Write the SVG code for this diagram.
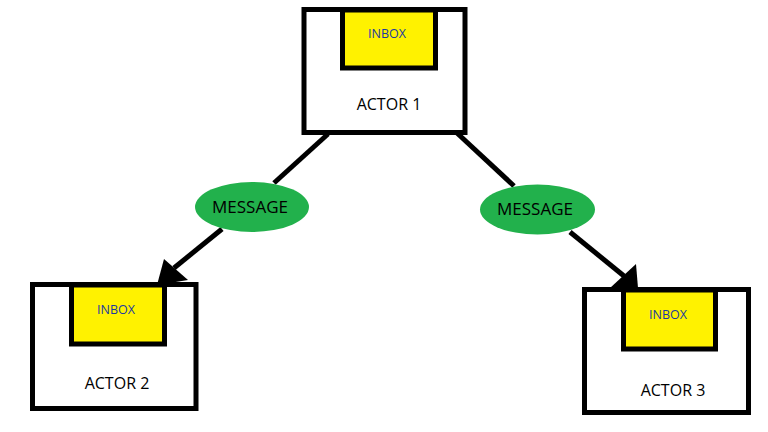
<svg xmlns="http://www.w3.org/2000/svg" width="768" height="432" viewBox="0 0 768 432">
<style>
.box{fill:#fff;stroke:#000;stroke-width:5}
.inbox{fill:#fff200;stroke:#000;stroke-width:5}
.ib{font-family:"Open Sans","Liberation Sans",sans-serif;font-size:12.5px;fill:#1a3aa0;text-anchor:middle}
.al{font-family:"Open Sans","Liberation Sans",sans-serif;font-size:16px;fill:#000;text-anchor:middle}
.msg{fill:#22b14c}
.ml{font-family:"Open Sans","Liberation Sans",sans-serif;font-size:17px;fill:#000;text-anchor:middle}
.ln{stroke:#000;stroke-width:5;fill:none}
</style>
<rect width="768" height="432" fill="#fff"/>
<g id="connectors">
<line class="ln" x1="328" y1="134" x2="274" y2="183"/>
<line class="ln" x1="222" y1="229" x2="174" y2="268"/>
<polygon points="157,285 164,259 188,280" fill="#000"/>
<line class="ln" x1="457" y1="133" x2="514" y2="186"/>
<line class="ln" x1="570" y1="232" x2="624" y2="276"/>
<polygon points="610,288 636,264 638,288" fill="#000"/>
</g>
<g id="actor1">
<rect class="box" x="304" y="9.5" width="161" height="123"/>
<rect class="inbox" x="342.5" y="10" width="93" height="58"/>
<text class="ib" x="387" y="38">INBOX</text>
<text class="al" x="389" y="110">ACTOR 1</text>
</g>
<g id="actor2">
<rect class="box" x="32.5" y="284.5" width="163.5" height="124"/>
<rect class="inbox" x="71.5" y="285" width="93" height="59"/>
<text class="ib" x="116" y="314">INBOX</text>
<text class="al" x="117" y="389">ACTOR 2</text>
</g>
<g id="actor3">
<rect class="box" x="584.5" y="289.5" width="164" height="123"/>
<rect class="inbox" x="623.5" y="290" width="92" height="59"/>
<text class="ib" x="668" y="319">INBOX</text>
<text class="al" x="673" y="396">ACTOR 3</text>
</g>
<g id="message1">
<ellipse class="msg" cx="252" cy="207" rx="57" ry="25"/>
<text class="ml" x="250" y="213">MESSAGE</text>
</g>
<g id="message2">
<ellipse class="msg" cx="537.5" cy="209.5" rx="57.5" ry="25"/>
<text class="ml" x="535" y="215">MESSAGE</text>
</g>
</svg>
